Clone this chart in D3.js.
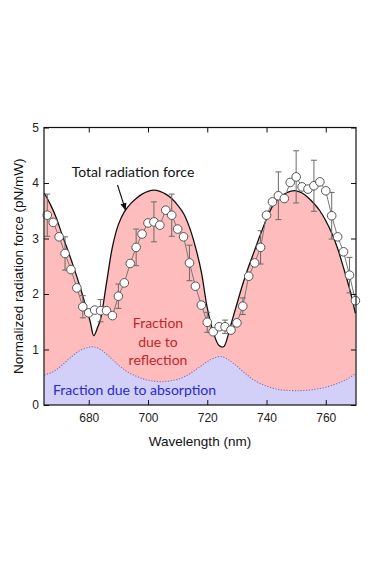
<!DOCTYPE html>
<html>
<head>
<meta charset="utf-8">
<script src="https://cdn.jsdelivr.net/npm/d3@7"></script>
<style>
  body { margin: 0; background: #fff; }
  svg { display: block; }
</style>
</head>
<body>
<svg width="378" height="568"></svg>
<script>
// measured points (2 nm step) and their error bars (0 = no bar drawn)
const wavelength = [666,668,670,672,674,676,678,680,682,684,686,688,690,692,694,696,698,700,702,704,706,708,710,712,714,716,718,720,722,724,726,728,730,732,734,736,738,740,742,744,746,748,750,752,754,756,758,760,762,764,766,768,770];
const measured = [3.42,3.29,3.03,2.73,2.44,2.11,1.77,1.66,1.71,1.70,1.70,1.61,1.96,2.20,2.55,2.84,3.08,3.28,3.30,3.24,3.51,3.42,3.17,3.03,2.56,2.14,1.80,1.49,1.32,1.41,1.41,1.35,1.48,1.78,2.32,2.56,2.84,3.42,3.66,3.77,3.72,4.01,4.11,3.93,3.89,3.95,4.02,3.86,3.41,3.03,2.76,2.34,1.88];
const errorBar = [0.38,0,0,0.30,0,0,0.20,0,0,0.20,0,0,0.22,0,0,0.33,0,0,0.36,0,0,0.38,0,0,0.32,0,0,0.18,0,0,0.12,0,0,0.15,0,0,0.30,0,0,0.43,0,0,0.47,0,0,0.46,0,0,0.42,0,0,0.32,0];

// total radiation force (black curve)
const totalNm = [665,667,669,671,673,675,677,679,680.5,681.7,683,684,686,688,690,692,694,696,698,700,702,704,706,708,710,712,714,716,718,720,722,724,725.5,727,728,730,732,734,736,738,740,742,744,746,748,750,752,754,756,758,760,762,764,766,768,770];
const totalForce = [3.82,3.62,3.38,3.07,2.78,2.47,2.14,1.78,1.50,1.25,1.40,1.55,2.20,2.85,3.25,3.48,3.62,3.72,3.80,3.85,3.87,3.85,3.80,3.72,3.60,3.45,3.20,2.85,2.40,1.75,1.32,1.07,1.05,1.25,1.45,1.82,2.18,2.50,2.79,3.08,3.35,3.58,3.72,3.80,3.85,3.86,3.82,3.74,3.63,3.50,3.32,3.10,2.82,2.47,2.10,1.65];

// fraction due to absorption (dotted curve)
const absorbNm = [665,668,671,674,677,680,681.5,684,687,690,693,696,699,702,705,708,711,714,717,720,723,725,727,730,733,736,740,744,748,752,756,760,764,767,770];
const absorbForce = [0.54,0.60,0.72,0.86,0.98,1.04,1.05,1.00,0.87,0.72,0.60,0.52,0.46,0.43,0.42,0.44,0.48,0.56,0.67,0.78,0.86,0.87,0.82,0.70,0.56,0.44,0.34,0.28,0.26,0.26,0.28,0.32,0.39,0.46,0.56];

const xTicks = [680,700,720,740,760];
const yTicks = [0,1,2,3,4,5];

var svg = d3.select("svg"),
    width = +svg.attr("width"),
    height = +svg.attr("height");
const margin = {top: 127.5, right: 22, bottom: 163, left: 44};
const iw = width - margin.left - margin.right,
      ih = height - margin.top - margin.bottom;

svg.append("rect").attr("width", width).attr("height", height).attr("fill", "#fff");

var x = d3.scaleLinear().domain([664.9, 770.2]).range([0, iw]);
var y = d3.scaleLinear().domain([0, 5]).range([ih, 0]);

var g = svg.append("g").attr("transform", `translate(${margin.left},${margin.top})`);

g.append("clipPath").attr("id", "plot-clip")
  .append("rect").attr("width", iw).attr("height", ih);

var plot = g.append("g").attr("clip-path", "url(#plot-clip)");

var totalData = totalNm.map((d, i) => [d, totalForce[i]]);
var absorbData = absorbNm.map((d, i) => [d, absorbForce[i]]);

// pink area = reflection part, under the total curve
plot.append("path")
  .datum(totalData)
  .attr("d", d3.area().curve(d3.curveCatmullRom)
    .x(d => x(d[0])).y0(y(0)).y1(d => y(d[1])))
  .attr("fill", "#ffbcbc");

// blue area = absorption part
plot.append("path")
  .datum(absorbData)
  .attr("d", d3.area().curve(d3.curveCatmullRom)
    .x(d => x(d[0])).y0(y(0)).y1(d => y(d[1])))
  .attr("fill", "#d2d0f8");

plot.append("path")
  .datum(absorbData)
  .attr("d", d3.line().curve(d3.curveCatmullRom).x(d => x(d[0])).y(d => y(d[1])))
  .attr("fill", "none")
  .attr("stroke", "#8868b8")
  .attr("stroke-width", 1.1)
  .attr("stroke-dasharray", "1.2,1.6");

plot.append("path")
  .datum(totalData)
  .attr("d", d3.line().curve(d3.curveCatmullRom).x(d => x(d[0])).y(d => y(d[1])))
  .attr("fill", "none")
  .attr("stroke", "#111")
  .attr("stroke-width", 1.3);

// measured data: connecting line, error bars, circles
var pts = wavelength.map((d, i) => ({nm: d, v: measured[i], e: errorBar[i]}));

g.append("path")
  .datum(pts)
  .attr("d", d3.line().x(d => x(d.nm)).y(d => y(d.v)))
  .attr("fill", "none")
  .attr("stroke", "#777")
  .attr("stroke-width", 1);

var bars = g.append("g").selectAll("g")
  .data(pts.filter(d => d.e > 0))
  .enter().append("g")
  .attr("stroke", "#6a6a6a").attr("stroke-width", 1);
bars.append("line")
  .attr("x1", d => x(d.nm)).attr("x2", d => x(d.nm))
  .attr("y1", d => y(d.v + d.e)).attr("y2", d => y(d.v - d.e));
bars.append("line")
  .attr("x1", d => x(d.nm) - 3).attr("x2", d => x(d.nm) + 3)
  .attr("y1", d => y(d.v + d.e)).attr("y2", d => y(d.v + d.e));
bars.append("line")
  .attr("x1", d => x(d.nm) - 3).attr("x2", d => x(d.nm) + 3)
  .attr("y1", d => y(d.v - d.e)).attr("y2", d => y(d.v - d.e));

g.append("g").selectAll("circle")
  .data(pts)
  .enter().append("circle")
  .attr("cx", d => x(d.nm))
  .attr("cy", d => y(d.v))
  .attr("r", 4.3)
  .attr("fill", "#fff")
  .attr("stroke", "#555")
  .attr("stroke-width", 1);

// axes, ticks pointing inwards
const font = "'Liberation Sans', Arial, sans-serif";
function styleAxis(sel) {
  sel.attr("font-family", font).attr("font-size", 12);
  sel.select(".domain").remove();
  sel.selectAll(".tick line").attr("stroke", "#111");
  sel.selectAll("text").attr("fill", "#222");
}
g.append("g").attr("transform", `translate(0,${ih})`)
  .call(d3.axisBottom(x).tickValues(xTicks).tickSize(-5).tickPadding(8).tickFormat(d3.format("d")))
  .call(styleAxis);
g.append("g")
  .call(d3.axisTop(x).tickValues(xTicks).tickSize(-5).tickFormat(""))
  .call(styleAxis);
g.append("g")
  .call(d3.axisLeft(y).tickValues(yTicks).tickSize(-5).tickPadding(5).tickFormat(d3.format("d")))
  .call(styleAxis);
g.append("g").attr("transform", `translate(${iw},0)`)
  .call(d3.axisRight(y).tickValues(yTicks).tickSize(-5).tickFormat(""))
  .call(styleAxis);

g.append("rect")
  .attr("width", iw).attr("height", ih)
  .attr("fill", "none").attr("stroke", "#111").attr("stroke-width", 1.2);

// axis titles
svg.append("text")
  .attr("transform", `translate(18,${margin.top + ih / 2}) rotate(-90)`)
  .attr("text-anchor", "middle")
  .attr("dominant-baseline", "central")
  .attr("font-family", font).attr("font-size", 13.5).attr("fill", "#111")
  .text("Normalized radiation force (pN/mW)");
svg.append("text")
  .attr("x", margin.left + iw / 2).attr("y", 446)
  .attr("text-anchor", "middle")
  .attr("font-family", font).attr("font-size", 13.5).attr("fill", "#111")
  .text("Wavelength (nm)");

// annotations
const noteFont = "Lato, 'Open Sans', sans-serif";
svg.append("text")
  .attr("x", 133).attr("y", 177)
  .attr("text-anchor", "middle")
  .attr("font-family", noteFont).attr("font-size", 14).attr("fill", "#111")
  .text("Total radiation force");

svg.append("defs").append("marker")
  .attr("id", "head").attr("viewBox", "0 0 10 10")
  .attr("refX", 9).attr("refY", 5)
  .attr("markerWidth", 7).attr("markerHeight", 7)
  .attr("orient", "auto")
  .append("path").attr("d", "M0,1L10,5L0,9Z").attr("fill", "#111");
svg.append("line")
  .attr("x1", 117.5).attr("y1", 185).attr("x2", 125.5).attr("y2", 210)
  .attr("stroke", "#111").attr("stroke-width", 1.1)
  .attr("marker-end", "url(#head)");

var refl = svg.append("text")
  .attr("text-anchor", "middle")
  .attr("font-family", noteFont).attr("font-size", 14).attr("fill", "#c0262c");
["Fraction", "due to", "reflection"].forEach((t, i) => {
  refl.append("tspan").attr("x", 158).attr("y", 328 + i * 18.5).text(t);
});

svg.append("text")
  .attr("x", 53).attr("y", 395)
  .attr("font-family", noteFont).attr("font-size", 14).attr("fill", "#2a2acc")
  .text("Fraction due to absorption");
</script>
</body>
</html>
